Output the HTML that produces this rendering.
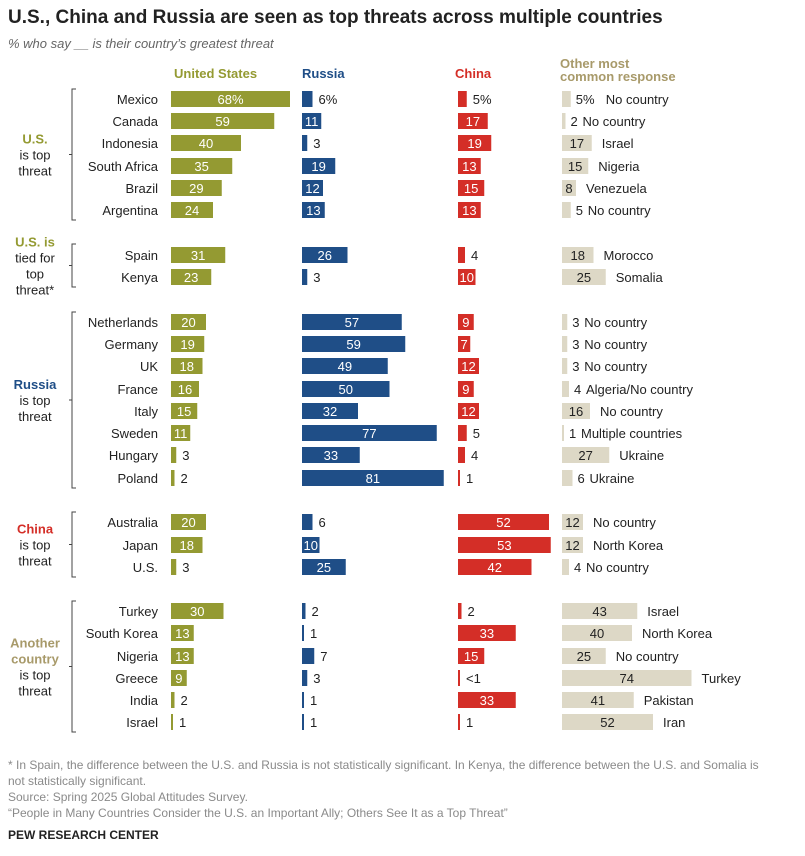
<!DOCTYPE html>
<html><head><meta charset="utf-8">
<style>
body{margin:0;background:#fff;width:805px;height:851px;overflow:hidden;font-family:"Liberation Sans",sans-serif;}
svg text{font-family:"Liberation Sans",sans-serif;}
</style></head>
<body>
<svg id="c" width="805" height="851" xmlns="http://www.w3.org/2000/svg">
<text x="8" y="23" font-size="19" font-weight="bold" fill="#222">U.S., China and Russia are seen as top threats across multiple countries</text>
<text x="8" y="48" font-size="13" font-style="italic" fill="#666" font-family="Liberation Serif">% who say __ is their country’s greatest threat</text>
<text x="174" y="78" font-size="13" font-weight="bold" fill="#949a32">United States</text>
<text x="302" y="78" font-size="13" font-weight="bold" fill="#1f4e87">Russia</text>
<text x="455" y="78" font-size="13" font-weight="bold" fill="#d42e27">China</text>
<text x="560" y="68" font-size="13" font-weight="bold" fill="#a89a6a">Other most</text>
<text x="560" y="81" font-size="13" font-weight="bold" fill="#a89a6a">common response</text>
<g id="rows"></g>
<g id="groups"></g>
<g font-size="12" fill="#8a8a8a">
<text x="8" y="769">* In Spain, the difference between the U.S. and Russia is not statistically significant. In Kenya, the difference between the U.S. and Somalia is</text>
<text x="8" y="785">not statistically significant.</text>
<text x="8" y="801">Source: Spring 2025 Global Attitudes Survey.</text>
<text x="8" y="817">“People in Many Countries Consider the U.S. an Important Ally; Others See It as a Top Threat”</text>
</g>
<text x="8" y="839" font-size="12" font-weight="bold" fill="#222">PEW RESEARCH CENTER</text>
</svg>
<script>
const countries=["Mexico","Canada","Indonesia","South Africa","Brazil","Argentina","Spain","Kenya","Netherlands","Germany","UK","France","Italy","Sweden","Hungary","Poland","Australia","Japan","U.S.","Turkey","South Korea","Nigeria","Greece","India","Israel"];
const usVals=[68,59,40,35,29,24,31,23,20,19,18,16,15,11,3,2,20,18,3,30,13,13,9,2,1];
const ruVals=[6,11,3,19,12,13,26,3,57,59,49,50,32,77,33,81,6,10,25,2,1,7,3,1,1];
const cnVals=[5,17,19,13,15,13,4,10,9,7,12,9,12,5,4,1,52,53,42,2,33,15,0.5,33,1];
const otherVals=[5,2,17,15,8,5,18,25,3,3,3,4,16,1,27,6,12,12,4,43,40,25,74,41,52];
const otherNames=["No country","No country","Israel","Nigeria","Venezuela","No country","Morocco","Somalia","No country","No country","No country","Algeria/No country","No country","Multiple countries","Ukraine","Ukraine","No country","North Korea","No country","Israel","North Korea","No country","Turkey","Pakistan","Iran"];
const rowY=[99,121,143,166,188,210,255,277,322,344,366,389,411,433,455,478,522,545,567,611,633,656,678,700,722];
const NS="http://www.w3.org/2000/svg";
const K=1.75;
function x(v){return v*K;}
function mk(t,a,p){const e=document.createElementNS(NS,t);for(const k in a)e.setAttribute(k,a[k]);p.appendChild(e);return e;}
const rows=document.getElementById('rows');
const cols=[{v:usVals,x0:171,c:"#949a32",n:"us",min:8},{v:ruVals,x0:302,c:"#1f4e87",n:"russia",min:8},{v:cnVals,x0:458,c:"#d42e27",n:"china",min:7}];
countries.forEach((name,i)=>{
  const y=rowY[i];
  const t=mk('text',{x:158,y:y+5,'font-size':13,'text-anchor':'end',fill:'#222'},rows);t.textContent=name;
  
  
  cols.forEach(col=>{
    const v=col.v[i],w=Math.max(x(v),2);
    const r=mk('rect',{x:col.x0,y:y-8,width:w,height:16,fill:col.c},rows);
    
    
    let lab=v<1?"<1":String(v);if(i===0)lab+="%";
    const inside=v>=col.min;
    const tt=mk('text',{x:inside?col.x0+w/2:col.x0+w+6,y:y+5,'font-size':13,'text-anchor':inside?'middle':'start',fill:inside?'#fff':'#222'},rows);
    tt.textContent=lab;
    
    
  });
  const ov=otherVals[i],ow=Math.max(x(ov),2);
  const r=mk('rect',{x:562,y:y-8,width:ow,height:16,fill:'#ddd8c6'},rows);
  
  
  const inside=ov>=8;
  const lx=inside?562+ow/2:562+ow+5;
  const tt=mk('text',{x:lx,y:y+5,'font-size':13,'text-anchor':inside?'middle':'start',fill:'#222'},rows);
  tt.textContent=ov+(i===0?"%":"");
  
  
  const nx=inside?562+ow+10:562+ow+5+(i===0?30:12);
  const nt=mk('text',{x:nx,y:y+5,'font-size':13,fill:'#222'},rows);
  nt.textContent=otherNames[i];
  
  
});
const groups=document.getElementById('groups');
const gdefs=[
 {y1:89,y2:220,lines:[["U.S.","#949a32"],["is top",null],["threat",null]],n:"us-top"},
 {y1:244,y2:287,lines:[["U.S. is","#949a32"],["tied for",null],["top",null],["threat*",null]],n:"us-tied"},
 {y1:312,y2:488,lines:[["Russia","#1f4e87"],["is top",null],["threat",null]],n:"russia-top"},
 {y1:512,y2:577,lines:[["China","#d42e27"],["is top",null],["threat",null]],n:"china-top"},
 {y1:601,y2:732,lines:[["Another","#a89a6a"],["country",'#a89a6a'],["is top",null],["threat",null]],n:"another-top"}];
gdefs.forEach(g=>{
  const p=mk('path',{d:`M76 ${g.y1}H72V${g.y2}H76M72 ${(g.y1+g.y2)/2}H69`,stroke:'#444',fill:'none','stroke-width':1},groups);
  
  
  const mid=(g.y1+g.y2)/2,n=g.lines.length,start=mid-(n-1)*8+5;
  g.lines.forEach((l,j)=>{
    const t=mk('text',{x:35,y:start+j*16,'font-size':13,'text-anchor':'middle',fill:l[1]||'#222','font-weight':l[1]?'bold':'normal'},groups);
    t.textContent=l[0];
    
    
  });
});
</script>
</body></html>
